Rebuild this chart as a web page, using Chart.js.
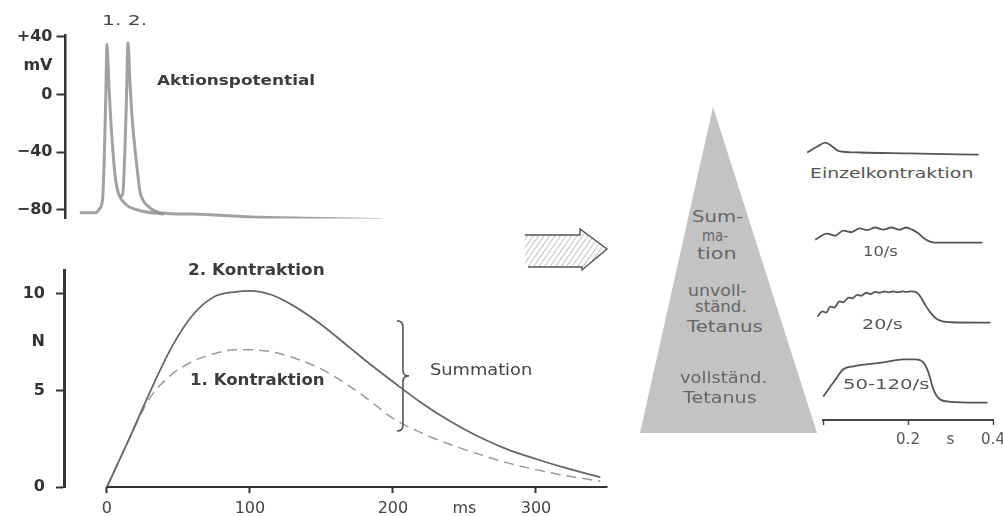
<!DOCTYPE html>
<html>
<head>
<meta charset="utf-8">
<script src="https://cdn.jsdelivr.net/npm/chart.js@4.4.1/dist/chart.umd.min.js"></script>
<style>
html, body { margin: 0; padding: 0; background: #fff; width: 1003px; height: 516px; overflow: hidden; position: relative; font-family: "DejaVu Sans", sans-serif; }
canvas { position: absolute; }
svg { position: absolute; left: 0; top: 0; }
.lbl { position: absolute; white-space: nowrap; line-height: 1; transform-origin: 0 0; color: #3c3c3c; }
.b { font-weight: bold; }
.tri { color: #666; font-size: 15px; }
.tr { color: #555; font-size: 14px; }
</style>
</head>
<body>
<svg width="1003" height="516">
  <defs>
    <pattern id="hatch" width="4.5" height="4.5" patternUnits="userSpaceOnUse" patternTransform="rotate(35)">
      <line x1="0" y1="0" x2="0" y2="4.5" stroke="#9a9a9a" stroke-width="1.2"/>
    </pattern>
  </defs>
  <polygon points="713,107 640,433 817,433" fill="#c3c3c3"/>
  <polygon points="525,235 580,235 580,229 607,249 582,270 582,267 525,267" fill="url(#hatch)"/>
  <polyline points="525,235 580,235 580,229 607,249 582,270 582,267 528,267" fill="none" stroke="#555" stroke-width="1.4"/>
</svg>

<canvas id="apChart" width="400" height="232" style="left:0;top:0"></canvas>
<canvas id="forceChart" width="620" height="265" style="left:0;top:250px"></canvas>
<canvas id="einzelChart" width="200" height="52" style="left:802px;top:107px"></canvas>
<canvas id="t10Chart" width="200" height="52" style="left:802px;top:195px"></canvas>
<canvas id="t20Chart" width="200" height="52" style="left:802px;top:275px"></canvas>
<canvas id="tetChart" width="200" height="52" style="left:802px;top:355px"></canvas>
<canvas id="secAxis" width="200" height="55" style="left:813px;top:395px"></canvas>

<div class="lbl" data-w="45" style="left:102px;top:13px;font-size:14px;color:#444">1. 2.</div>
<div class="lbl b" data-w="158" style="left:157px;top:73px;font-size:14px">Aktionspotential</div>
<div class="lbl b" data-w="137" style="left:188px;top:263px;font-size:15px">2. Kontraktion</div>
<div class="lbl b" data-w="135" style="left:190px;top:373px;font-size:15px">1. Kontraktion</div>
<div class="lbl" data-w="102" style="left:430px;top:363px;font-size:15px;color:#444">Summation</div>

<div class="lbl tri" data-w="51" style="left:692px;top:210px">Sum-</div>
<div class="lbl tri" data-w="26" style="left:702px;top:229px">ma-</div>
<div class="lbl tri" data-w="40" style="left:697px;top:247px">tion</div>
<div class="lbl tri" data-w="59" style="left:688px;top:284px">unvoll-</div>
<div class="lbl tri" data-w="52" style="left:695px;top:300px">ständ.</div>
<div class="lbl tri" data-w="76" style="left:687px;top:320px">Tetanus</div>
<div class="lbl tri" data-w="87" style="left:680px;top:371px">vollständ.</div>
<div class="lbl tri" data-w="74" style="left:683px;top:391px">Tetanus</div>

<div class="lbl tr" data-w="163" style="left:810px;top:166px">Einzelkontraktion</div>
<div class="lbl tr" data-w="35" style="left:863px;top:244px">10/s</div>
<div class="lbl tr" data-w="41" style="left:862px;top:317px">20/s</div>
<div class="lbl tr" data-w="87" style="left:843px;top:377px">50-120/s</div>

<script>
// Aktionspotential: time (ms) / membrane potential (mV)
const ap1Time = [-19, -8, -5, -3, -1.8, -0.8, 0, 1.2, 2.5, 4, 5.5, 7, 9, 14, 25, 40];
const ap1Volt = [-82, -82, -79, -72, -40, 0, 35, 10, -15, -37, -55, -65, -71, -77, -81, -83];
const ap2Time = [9, 11, 12.5, 13.7, 14.7, 16, 17.5, 19.5, 21.5, 23, 25, 28, 37, 60, 100, 150, 193];
const ap2Volt = [-71, -69, -40, 0, 36, 10, -15, -37, -55, -67, -73, -77, -82, -83, -85, -86, -87];
const apTicks = [-80, -60, -40, -20, 0, 20, 40];
const apTickLabels = ['−80', '', '−40', '', '0', 'mV', '+40'];

// Kontraktionskraft: time (ms) / force (N)
const forceTime = [0, 15, 30, 45, 60, 75, 90, 100, 115, 130, 150, 170, 185, 200, 220, 240, 260, 280, 300, 320, 345];
const force2 = [0, 2.4, 4.9, 7.2, 8.9, 9.85, 10.1, 10.15, 9.95, 9.4, 8.4, 7.2, 6.3, 5.45, 4.35, 3.4, 2.6, 1.95, 1.45, 1.0, 0.5];
const force1 = [0, 2.4, 4.6, 5.8, 6.5, 6.9, 7.1, 7.1, 7.0, 6.7, 6.1, 5.2, 4.4, 3.55, 2.8, 2.2, 1.7, 1.25, 0.9, 0.6, 0.3];
const forceXTicks = [0, 100, 200, 250, 300];
const forceXLabels = ['0', '100', '200', 'ms', '300'];
const forceYTicks = [0, 2.5, 5, 7.5, 10];
const forceYLabels = ['0', '', '5', 'N', '10'];
const summationMs = 207;
const summationRange = [2.9, 8.6];

// Reizfrequenz: time (s) / relative force
const einzelTime = [-0.038, -0.014, 0.005, 0.021, 0.035, 0.087, 0.2, 0.365];
const einzelForce = [0.05, 0.19, 0.28, 0.19, 0.09, 0.05, 0.03, 0];
const t10Time = [-0.019, 0.009, 0.028, 0.047, 0.066, 0.085, 0.104, 0.122, 0.141, 0.16, 0.179, 0.195, 0.209, 0.224, 0.238, 0.252, 0.275, 0.374];
const t10Force = [0.07, 0.21, 0.16, 0.28, 0.24, 0.33, 0.29, 0.35, 0.30, 0.35, 0.30, 0.35, 0.30, 0.21, 0.09, 0.02, 0, 0];
const t20Time = [-0.014, -0.002, 0.007, 0.016, 0.026, 0.038, 0.047, 0.059, 0.068, 0.08, 0.089, 0.101, 0.111, 0.122, 0.132, 0.144, 0.153, 0.165, 0.174, 0.186, 0.195, 0.207, 0.219, 0.231, 0.242, 0.254, 0.266, 0.28, 0.299, 0.393];
const t20Force = [0.14, 0.26, 0.23, 0.37, 0.35, 0.49, 0.47, 0.58, 0.56, 0.64, 0.62, 0.69, 0.66, 0.71, 0.69, 0.72, 0.70, 0.72, 0.70, 0.72, 0.71, 0.72, 0.70, 0.56, 0.37, 0.21, 0.09, 0.03, 0.01, 0];
const tetTime = [0, 0.024, 0.047, 0.071, 0.141, 0.188, 0.216, 0.235, 0.247, 0.259, 0.275, 0.299, 0.386];
const tetForce = [0.14, 0.47, 0.77, 0.84, 0.93, 1.0, 1.0, 0.93, 0.70, 0.30, 0.07, 0.02, 0];
const secTicks = [0, 0.1, 0.2, 0.3, 0.4];
const secLabels = ['', '', '0.2', 's', '0.4'];

Chart.defaults.font.family = '"DejaVu Sans", sans-serif';
Chart.defaults.color = '#333';

const pts = (xs, ys) => xs.map((x, i) => ({ x: x, y: ys[i] }));
const marked = labels => c => /\d/.test(labels[c.index]) ? '#333' : 'rgba(0,0,0,0)';

// axis line that starts at the x=0 tick, and the Summation brace
const extras = {
  id: 'extras',
  afterDatasetsDraw(chart, args, opts) {
    const ctx = chart.ctx, xs = chart.scales.x, ys = chart.scales.y;
    ctx.save();
    if (opts.axisFrom !== undefined) {
      const y = ys.getPixelForValue(0);
      ctx.strokeStyle = '#333';
      ctx.lineWidth = 2;
      ctx.beginPath();
      ctx.moveTo(xs.getPixelForValue(opts.axisFrom), y);
      ctx.lineTo(xs.getPixelForValue(opts.axisTo), y);
      ctx.stroke();
    }
    if (opts.brace) {
      const x = xs.getPixelForValue(opts.brace.x);
      const y1 = ys.getPixelForValue(opts.brace.to);
      const y2 = ys.getPixelForValue(opts.brace.from);
      const ym = (y1 + y2) / 2;
      ctx.strokeStyle = '#555';
      ctx.lineWidth = 1.6;
      ctx.beginPath();
      ctx.moveTo(x - 6, y1);
      ctx.quadraticCurveTo(x, y1, x, y1 + 6);
      ctx.lineTo(x, ym - 6);
      ctx.quadraticCurveTo(x, ym, x + 6, ym);
      ctx.quadraticCurveTo(x, ym, x, ym + 6);
      ctx.lineTo(x, y2 - 6);
      ctx.quadraticCurveTo(x, y2, x - 6, y2);
      ctx.stroke();
    }
    ctx.restore();
  }
};

const base = {
  responsive: false,
  animation: false,
  events: [],
  plugins: { legend: { display: false }, tooltip: { enabled: false } }
};

// Aktionspotential
new Chart(document.getElementById('apChart'), {
  type: 'line',
  data: {
    datasets: [
      { data: pts(ap1Time, ap1Volt), borderColor: 'rgba(145,145,145,0.85)', borderWidth: 3, pointRadius: 0, cubicInterpolationMode: 'monotone' },
      { data: pts(ap2Time, ap2Volt), borderColor: 'rgba(145,145,145,0.85)', borderWidth: 3, pointRadius: 0, cubicInterpolationMode: 'monotone' }
    ]
  },
  options: {
    ...base,
    layout: { autoPadding: false, padding: { top: 35.5, bottom: 6, left: 0, right: 7 } },
    scales: {
      x: { type: 'linear', min: -29, max: 200, display: false },
      y: {
        min: -86, max: 41,
        afterFit: s => { s.width = 65.5; },
        afterBuildTicks: s => { s.ticks = apTicks.map(v => ({ value: v })); },
        border: { color: '#333', width: 2.5 },
        grid: { drawOnChartArea: false, tickLength: 9, tickWidth: 2, tickColor: marked(apTickLabels) },
        ticks: { padding: 4, font: { size: 16, weight: 'bold' }, color: '#333', callback: (v, i) => apTickLabels[i] }
      }
    }
  }
});

// Kontraktionen
new Chart(document.getElementById('forceChart'), {
  type: 'line',
  data: {
    datasets: [
      { data: pts(forceTime, force2), borderColor: '#666', borderWidth: 1.8, pointRadius: 0, cubicInterpolationMode: 'monotone' },
      { data: pts(forceTime, force1), borderColor: '#999', borderWidth: 1.5, borderDash: [10, 6], pointRadius: 0, cubicInterpolationMode: 'monotone' }
    ]
  },
  plugins: [extras],
  options: {
    ...base,
    plugins: { ...base.plugins, extras: { axisFrom: 0, axisTo: 350, brace: { x: summationMs, from: summationRange[0], to: summationRange[1] } } },
    layout: { autoPadding: false, padding: { top: 8.5, bottom: 0, left: 0, right: 12.5 } },
    scales: {
      x: {
        type: 'linear', min: -30, max: 350,
        afterFit: s => { s.height = 28; },
        afterBuildTicks: s => { s.ticks = forceXTicks.map(v => ({ value: v })); },
        border: { display: false },
        grid: { drawOnChartArea: false, tickLength: 6, tickWidth: 2, tickColor: marked(forceXLabels) },
        ticks: { padding: 6, autoSkip: false, maxRotation: 0, font: { size: 16 }, color: '#444', callback: (v, i) => forceXLabels[i] }
      },
      y: {
        min: 0, max: 11.2,
        afterFit: s => { s.width = 64; },
        afterBuildTicks: s => { s.ticks = forceYTicks.map(v => ({ value: v })); },
        border: { color: '#333', width: 3 },
        grid: { drawOnChartArea: false, tickLength: 8, tickWidth: 2, tickColor: marked(forceYLabels) },
        ticks: { padding: 11, font: { size: 16, weight: 'bold' }, color: '#333', callback: (v, i) => forceYLabels[i] }
      }
    }
  }
});

// Einzelkontraktion / Summation / Tetanus
function trace(id, times, vals) {
  new Chart(document.getElementById(id), {
    type: 'line',
    data: { datasets: [{ data: pts(times, vals), borderColor: '#555', borderWidth: 1.8, pointRadius: 0, cubicInterpolationMode: 'monotone' }] },
    options: {
      ...base,
      layout: { autoPadding: false, padding: 0 },
      scales: {
        x: { type: 'linear', min: -0.05, max: 0.42, display: false },
        y: { min: -0.1, max: 1.1, display: false }
      }
    }
  });
}
trace('einzelChart', einzelTime, einzelForce);
trace('t10Chart', t10Time, t10Force);
trace('t20Chart', t20Time, t20Force);
trace('tetChart', tetTime, tetForce);

// time axis in s
new Chart(document.getElementById('secAxis'), {
  type: 'line',
  data: { datasets: [] },
  options: {
    ...base,
    layout: { autoPadding: false, padding: { top: 0, bottom: 0, left: 10, right: 20 } },
    scales: {
      x: {
        type: 'linear', min: 0, max: 0.4,
        afterFit: s => { s.height = 30; },
        afterBuildTicks: s => { s.ticks = secTicks.map(v => ({ value: v })); },
        border: { color: '#444', width: 2 },
        grid: { drawOnChartArea: false, tickLength: 5, tickWidth: 1.5, tickColor: c => [0, 2, 4].includes(c.index) ? '#444' : 'rgba(0,0,0,0)' },
        ticks: { padding: 6, autoSkip: false, maxRotation: 0, font: { size: 15 }, color: '#555', callback: (v, i) => secLabels[i] }
      },
      y: { display: false, min: 0, max: 1 }
    }
  }
});

// stretch labels to the widths in the figure
document.querySelectorAll('.lbl').forEach(el => {
  el.style.transform = 'scaleX(' + (+el.dataset.w / el.offsetWidth) + ')';
});
</script>
</body>
</html>
